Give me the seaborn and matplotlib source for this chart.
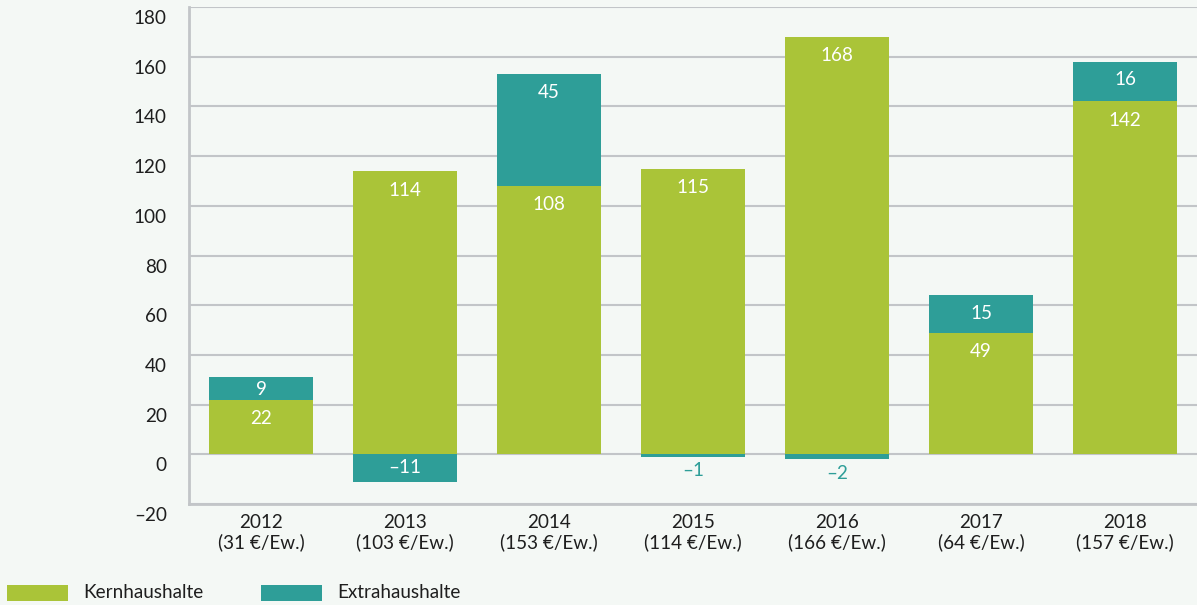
import matplotlib
matplotlib.use("Agg")
import matplotlib.pyplot as plt
import matplotlib.transforms as mtransforms
from matplotlib.patches import Rectangle
import seaborn as sns
import pandas as pd

years = ["2012", "2013", "2014", "2015", "2016", "2017", "2018"]
per_capita = [31, 103, 153, 114, 166, 64, 157]
kern = [22, 114, 108, 115, 168, 49, 142]
extra = [9, -11, 45, -1, -2, 15, 16]
yticks = [-20, 0, 20, 40, 60, 80, 100, 120, 140, 160, 180]

GREEN = "#aac438"
TEAL = "#2e9e98"
BG = "#f4f8f5"
GRID = "#c2c5c8"
TXT = "#1e1e1e"
FS = 13.6

sns.set_theme(style="white")
plt.rcParams["font.family"] = ["Lato", "DejaVu Sans"]

W, H = 1197, 605
fig = plt.figure(figsize=(W / 100, H / 100), dpi=100, facecolor=BG)
ax = fig.add_axes([189 / W, 1 - 504 / H, 1 - 189 / W, (504 - 7) / H])
ax.set_facecolor(BG)

cats = [f"{y}\n({p} €/Ew.)" for y, p in zip(years, per_capita)]
teal_h = [k + e if e > 0 else e for k, e in zip(kern, extra)]
df = pd.DataFrame({"cat": cats, "kern": kern, "teal": teal_h})

sns.barplot(data=df, x="cat", y="teal", color=TEAL, width=0.72, saturation=1,
            ax=ax, zorder=3, linewidth=0)
sns.barplot(data=df, x="cat", y="kern", color=GREEN, width=0.72, saturation=1,
            ax=ax, zorder=4, linewidth=0)

ax.set_xlim(-0.5, len(cats) - 0.5)
ax.set_ylim(-20, 180)
ax.set_yticks(yticks)
ax.set_yticklabels([("–" + str(-v)) if v < 0 else str(v) for v in yticks])
ax.set_xlabel("")
ax.set_ylabel("")

ax.grid(axis="y", color=GRID, linewidth=1.5, zorder=0)
ax.set_axisbelow(True)
for s in ["top", "right"]:
    ax.spines[s].set_visible(False)
for s in ["left", "bottom"]:
    ax.spines[s].set_color(GRID)
    ax.spines[s].set_linewidth(2)
    ax.spines[s].set_zorder(5)

ax.tick_params(axis="y", length=0, pad=16, labelsize=FS, labelcolor=TXT)
ax.tick_params(axis="x", which="major", length=0, pad=7, labelsize=FS, labelcolor=TXT)
ax.set_xticks([i + 0.5 for i in range(len(cats) - 1)], minor=True)
ax.tick_params(axis="x", which="minor", direction="in", length=12, width=1.5, color=GRID)
for lbl in ax.get_xticklabels():
    lbl.set_linespacing(1.15)
offset = mtransforms.ScaledTranslation(0, -10 / 100, fig.dpi_scale_trans)
for lbl in ax.get_yticklabels():
    lbl.set_transform(lbl.get_transform() + offset)

# value labels
for i, (k, e) in enumerate(zip(kern, extra)):
    ax.annotate(str(k), (i, k), xytext=(0, -19), textcoords="offset pixels",
                ha="center", va="center", color="white", fontsize=FS, zorder=6)
    if e > 0:
        seg_px = e * 497 / 200
        off = min(18, seg_px / 2 + 1)
        ax.annotate(str(e), (i, k + e), xytext=(0, -off), textcoords="offset pixels",
                    ha="center", va="center", color="white", fontsize=FS, zorder=6)
    else:
        seg_px = -e * 497 / 200
        if seg_px > 20:
            ax.annotate("–" + str(-e), (i, e), xytext=(0, seg_px / 2), textcoords="offset pixels",
                        ha="center", va="center", color="white", fontsize=FS, zorder=6)
        else:
            ax.annotate("–" + str(-e), (i, e), xytext=(0, -14), textcoords="offset pixels",
                        ha="center", va="center", color=TEAL, fontsize=FS, zorder=6)

# legend
for x0, col, name in [(7, GREEN, "Kernhaushalte"), (261, TEAL, "Extrahaushalte")]:
    fig.patches.append(Rectangle((x0 / W, 1 - 601 / H), 61 / W, 16 / H,
                                 transform=fig.transFigure, color=col, linewidth=0))
    fig.text((x0 + 76) / W, 1 - 593 / H, name, ha="left", va="center",
             fontsize=FS, color=TXT)

fig.savefig("out.png", dpi=100, facecolor=BG)
